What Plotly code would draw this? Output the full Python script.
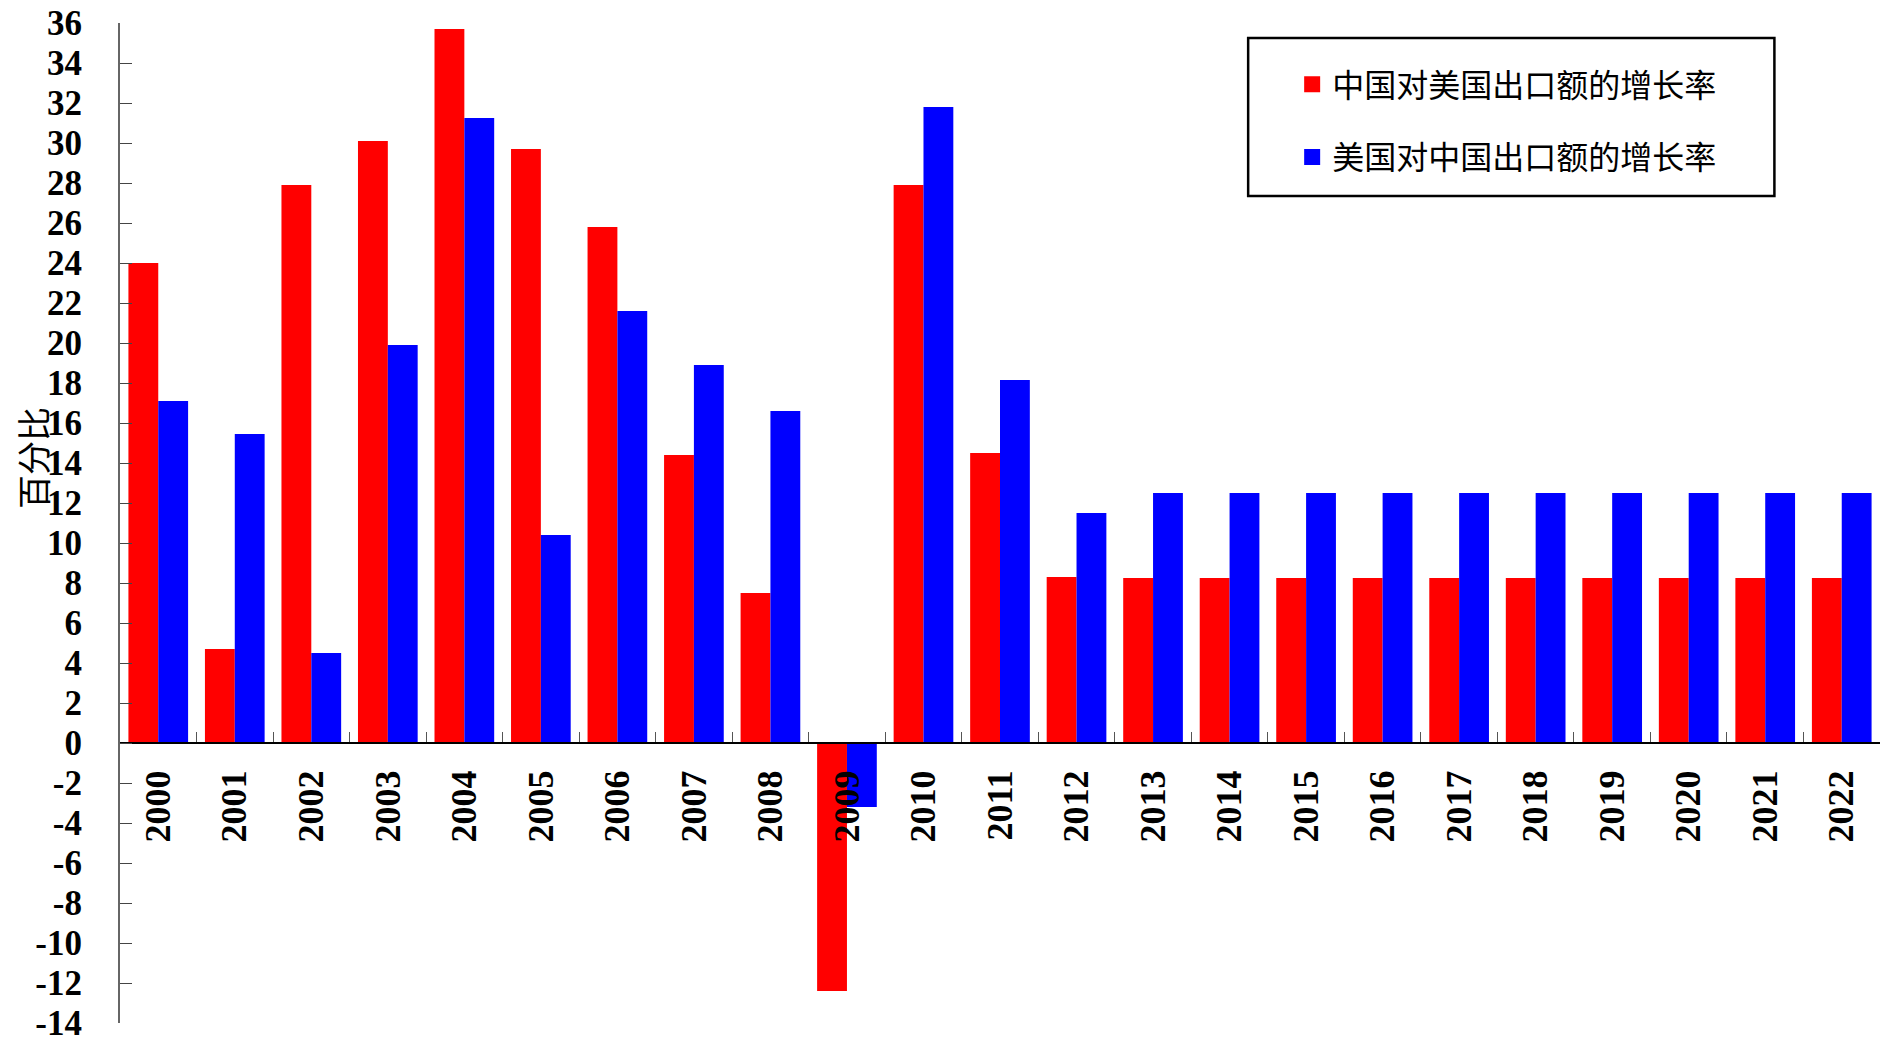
import plotly.graph_objects as go

years = [str(y) for y in range(2000, 2023)]
china_to_us = [24.0, 4.7, 27.9, 30.1, 35.7, 29.7, 25.8, 14.4, 7.5, -12.4, 27.9, 14.5, 8.3,
               8.25, 8.25, 8.25, 8.25, 8.25, 8.25, 8.25, 8.25, 8.25, 8.25]
us_to_china = [17.1, 15.45, 4.5, 19.9, 31.25, 10.4, 21.6, 18.9, 16.6, -3.2, 31.8, 18.15, 11.5,
               12.5, 12.5, 12.5, 12.5, 12.5, 12.5, 12.5, 12.5, 12.5, 12.5]
y_ticks = list(range(-14, 37, 2))
y_ticktext = [str(v) for v in y_ticks]  # plain hyphen minus as in reference
name_cn = "中国对美国出口额的增长率"
name_us = "美国对中国出口额的增长率"
y_title = "百分比"
red, blue = "#FF0000", "#0000FF"

serif = "Liberation Serif, Times New Roman, serif"
cjk = "Noto Sans CJK SC, sans-serif"

fig = go.Figure()
fig.add_trace(go.Bar(x=years, y=china_to_us, name=name_cn, marker=dict(color=red, line=dict(width=0)),
                     showlegend=False))
fig.add_trace(go.Bar(x=years, y=us_to_china, name=name_us, marker=dict(color=blue, line=dict(width=0)),
                     showlegend=False))
# legend-only entries with larger square swatches
fig.add_trace(go.Scatter(x=[None], y=[None], mode="markers", name=name_cn, legendgroup="a",
                         marker=dict(symbol="square", size=19, color=red)))
fig.add_trace(go.Scatter(x=[None], y=[None], mode="markers", name=name_us, legendgroup="b",
                         marker=dict(symbol="square", size=19, color=blue)))

ymin, ymax = -14, 36
fig.update_layout(
    width=1882, height=1044,
    margin=dict(l=120, r=2, t=23, b=21, autoexpand=False),
    plot_bgcolor="white", paper_bgcolor="white",
    barmode="group", bargap=0.22, bargroupgap=0,
    showlegend=True,
    legend=dict(
        x=0.666, y=0.966, xanchor="left", yanchor="top",
        font=dict(family=cjk, size=32, color="black"),
        bgcolor="rgba(0,0,0,0)", borderwidth=0,
        traceorder="grouped", tracegroupgap=28, itemsizing="trace",
    ),
    xaxis=dict(
        type="category", range=[-0.5, 22.5],
        anchor="free", position=(0 - ymin) / (ymax - ymin),
        showline=True, linecolor="black", linewidth=2,
        ticks="inside", tickson="boundaries", ticklen=10, tickcolor="#555555", tickwidth=1,
        tickangle=-90, ticklabelstandoff=12, automargin=False,
        tickfont=dict(family=serif, size=36, color="black", weight="bold"),
        showgrid=False, zeroline=False,
    ),
    yaxis=dict(
        range=[ymin, ymax], tickmode="array", tickvals=y_ticks, ticktext=y_ticktext,
        showline=True, linecolor="#666666", linewidth=2,
        ticks="inside", ticklen=12, tickcolor="#444444", tickwidth=1,
        tickfont=dict(family=serif, size=35, color="black", weight="bold"),
        ticklabelstandoff=29, ticklabeloverflow="allow", automargin=False,
        showgrid=False, zeroline=False,
    ),
    annotations=[dict(
        text=y_title, xref="paper", yref="paper", x=-0.050, y=0.565,
        xanchor="center", yanchor="middle", textangle=-90, showarrow=False,
        font=dict(family=cjk, size=34, color="black"),
    )],
    shapes=[dict(
        type="rect", xref="paper", yref="paper",
        x0=0.641, x1=0.940, y0=0.827, y1=0.985,
        line=dict(color="black", width=2.5), fillcolor="rgba(0,0,0,0)", layer="above",
    )],
)

fig.write_html("out.html", config={"displayModeBar": False},
               post_script="document.body.style.margin='0';")
